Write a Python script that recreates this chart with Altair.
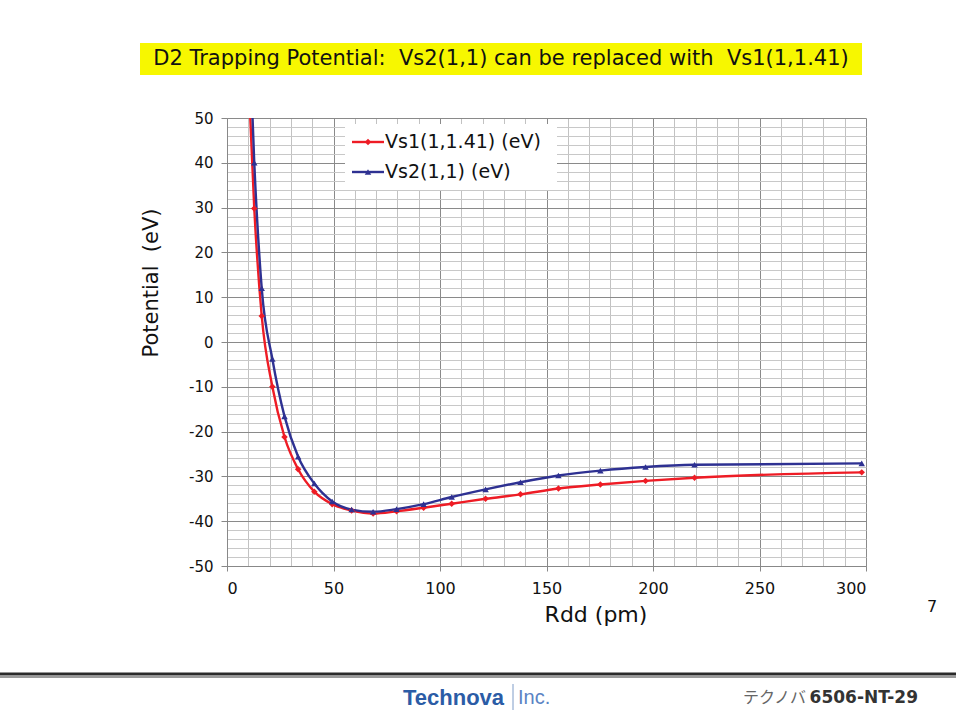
import altair as alt
import pandas as pd

# Inter-deuteron distance Rdd (pm) and the two trapping potentials (eV)
rdd = [10.0, 12.8, 16.3, 21.3, 27.0, 33.4, 41.0, 49.4, 58.5, 68.6, 79.6, 92.3,
       105.5, 121.4, 137.8, 155.6, 175.3, 196.5, 219.5, 298.0]
vs1 = [60.0, 29.8, 5.8, -10.0, -21.2, -28.4, -33.4, -36.2, -37.6, -38.3, -37.8,
       -37.0, -36.1, -35.0, -34.0, -32.7, -31.8, -31.0, -30.3, -29.1]
vs2 = [75.0, 40.0, 12.0, -3.8, -16.6, -25.6, -31.6, -35.6, -37.4, -37.9, -37.3,
       -36.2, -34.6, -32.9, -31.3, -29.8, -28.7, -27.9, -27.4, -27.1]

series_names = ["Vs1(1,1.41) (eV)", "Vs2(1,1) (eV)"]
series_colors = ["#EE1C25", "#2E3192"]
series_shapes = ["diamond", "triangle-up"]

x_ticks = list(range(0, 301, 10))
y_ticks = list(range(-50, 51, 2))

FONT = "DejaVu Sans"
W, H = 639, 448

df = pd.concat([
    pd.DataFrame({"rdd": rdd, "v": vs1, "series": series_names[0]}),
    pd.DataFrame({"rdd": rdd, "v": vs2, "series": series_names[1]}),
])

color = alt.Color("series:N", scale=alt.Scale(domain=series_names, range=series_colors), legend=None)
shape = alt.Shape("series:N", scale=alt.Scale(domain=series_names, range=series_shapes), legend=None)

x_axis = alt.Axis(
    values=x_ticks, title=None, labelOverlap=False,
    labelExpr="datum.value % 50 === 0 ? '' + datum.value : ''",
    labelFont=FONT, labelFontSize=16, labelColor="#111", labelPadding=9,
    gridColor={"condition": {"test": "datum.value % 50 === 0", "value": "#8a8a8a"}, "value": "#c2c2c2"},
    gridWidth=1,
    tickColor={"condition": {"test": "datum.value % 50 === 0", "value": "#888"}, "value": "transparent"},
    tickSize=5, domainColor="#888",
)
y_axis = alt.Axis(
    values=y_ticks, title=None, labelOverlap=False,
    labelExpr="datum.value % 10 === 0 ? '' + datum.value : ''",
    labelFont=FONT, labelFontSize=15, labelColor="#111", labelPadding=8,
    gridColor={"condition": {"test": "datum.value % 10 === 0", "value": "#8a8a8a"}, "value": "#c8c8c8"},
    gridWidth=1,
    tickColor={"condition": {"test": "datum.value % 10 === 0", "value": "#888"}, "value": "transparent"},
    tickSize=6, domainColor="#888",
)
x_enc = alt.X("rdd:Q", scale=alt.Scale(domain=[0, 300], nice=False), axis=x_axis)
y_enc = alt.Y("v:Q", scale=alt.Scale(domain=[-50, 50], nice=False), axis=y_axis)

base = alt.Chart(df)
lines = base.mark_line(strokeWidth=2.4, interpolate="monotone", clip=True).encode(
    x=x_enc, y=y_enc, color=color, detail="series:N"
)
points = base.mark_point(filled=True, size=42, clip=True, opacity=1).encode(
    x=x_enc, y=y_enc, color=color, shape=shape
)

# Legend box drawn in pixel space
leg_df = pd.DataFrame({"series": series_names, "ly": [24, 54]})
leg = alt.Chart(leg_df)
leg_bg = alt.Chart(pd.DataFrame({"a": [0]})).mark_rect(fill="white").encode(
    x=alt.value(118), x2=alt.value(330), y=alt.value(6), y2=alt.value(72)
)
leg_line = leg.mark_rule(strokeWidth=2.4).encode(
    x=alt.value(125), x2=alt.value(157), y=alt.Y("ly:Q", scale=None), color=color
)
leg_pt = leg.mark_point(filled=True, size=42, opacity=1).encode(
    x=alt.value(141), y=alt.Y("ly:Q", scale=None), color=color, shape=shape
)
leg_txt = leg.mark_text(align="left", baseline="middle", font=FONT, fontSize=19, color="#111").encode(
    x=alt.value(158), y=alt.Y("ly:Q", scale=None), text="series:N"
)

one = pd.DataFrame({"a": [0]})


def label(text, x, y, size=16, **kw):
    return alt.Chart(one).mark_text(text=text, fontSize=size, **kw).encode(
        x=alt.value(x), y=alt.value(y)
    )


# Heading band
title_bg = alt.Chart(one).mark_rect(fill="#F7F700").encode(
    x=alt.value(-87), x2=alt.value(635), y=alt.value(-75), y2=alt.value(-43)
)
title_txt = label("D2 Trapping Potential:\u00a0 Vs2(1,1) can be replaced with\u00a0 Vs1(1,1.41)",
                  274, -59, size=21, font=FONT, color="#111", align="center", baseline="middle")

x_title = label("Rdd (pm)", 369, 497, size=22, font=FONT, color="#111", align="center", baseline="middle")
y_title = label("Potential\u00a0 (eV)", -75, 165, size=21, font=FONT, color="#111",
                align="center", baseline="middle", angle=270)
page_no = label("7", 705, 489, size=16, font=FONT, color="#111", align="center", baseline="middle")

# Footer rule and captions
foot_dark = alt.Chart(one).mark_rule(color="#2a2a2a", strokeWidth=3).encode(
    x=alt.value(-227), x2=alt.value(729), y=alt.value(556)
)
foot_light = alt.Chart(one).mark_rule(color="#9a9a9a", strokeWidth=2).encode(
    x=alt.value(-227), x2=alt.value(729), y=alt.value(559)
)
brand = label("Technova", 176, 580, size=22, font="Liberation Sans", fontWeight="bold", color="#2B5CA6",
              align="left", baseline="middle")
brand_sep = alt.Chart(one).mark_rule(color="#7f9cc8", strokeWidth=1).encode(
    x=alt.value(286), y=alt.value(566), y2=alt.value(592)
)
brand_inc = label("Inc.", 291, 580, size=20, font="Liberation Sans", color="#5B84C4",
                  align="left", baseline="middle")
doc_kana = label("テクノバ", 579, 580, size=16, font="Noto Sans CJK JP", color="#666",
                 align="right", baseline="middle")
doc_id = label("6506-NT-29", 691, 580, size=17, font=FONT, fontWeight="bold", color="#333",
               align="right", baseline="middle")

chart = alt.layer(
    lines, points,
    leg_bg, leg_line, leg_pt, leg_txt,
    title_bg, title_txt, x_title, y_title, page_no,
    foot_dark, foot_light, brand, brand_sep, brand_inc, doc_kana, doc_id,
).properties(
    width=W, height=H,
    autosize=alt.AutoSizeParams(type="none"),
    padding={"left": 227, "top": 118, "right": 90, "bottom": 144},
    background="white",
).configure_view(stroke=None)

chart.save("out.html", embed_options={"renderer": "svg", "actions": False})
